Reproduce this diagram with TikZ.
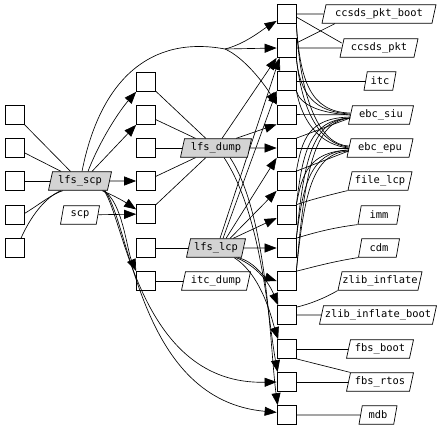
\documentclass[tikz,border=0pt]{standalone}
\usepackage{fontspec}
\newfontfamily\lblfont{DejaVu Sans Mono}
\usetikzlibrary{shapes.geometric,arrows.meta,backgrounds}
\definecolor{nodegray}{RGB}{211,211,211}
\begin{document}
\begin{tikzpicture}[x=1pt,y=-1pt,
  box/.style={draw, line width=0.7pt, minimum width=19pt, minimum height=19pt, inner sep=0pt},
  lbl/.style={draw, line width=0.7pt, trapezium, trapezium left angle=72, trapezium right angle=108,
    trapezium stretches body, minimum height=18.5pt, inner xsep=0pt, inner ysep=1pt,
    font=\lblfont\fontsize{10.4}{12}\selectfont},
  gr/.style={fill=nodegray},
  ln/.style={line width=0.65pt},
  arr/.style={ln, -{Triangle[length=12pt,width=9pt]}},
]
\useasboundingbox (0,0) rectangle (442,429);
% left boxes
\foreach \i/\y in {1/115,2/148,3/181,4/215,5/248} \node[box] (L\i) at (15,\y) {};
% middle boxes
\foreach \i/\y in {1/82,2/115,3/148,4/181,5/214,6/248,7/281} \node[box] (M\i) at (146,\y) {};
% right boxes
\foreach \i/\y in {1/14,2/48,3/81,4/114.5,5/148,6/181,7/214.5,8/248,9/281,10/315,11/349,12/382,13/415}
  \node[box] (R\i) at (286.5,\y) {};
% labels
\node[lbl,gr,minimum width=63pt] (lfs_scp) at (80,181) {lfs\_scp};
\node[lbl,minimum width=39pt] (scp) at (80,215) {scp};
\node[lbl,gr,minimum width=71pt] (lfs_dump) at (216,148) {lfs\_dump};
\node[lbl,gr,minimum width=59pt] (lfs_lcp) at (216,248) {lfs\_lcp};
\node[lbl,minimum width=69pt] (itc_dump) at (216,281) {itc\_dump};
\node[lbl,minimum width=114pt] (ccsds_pkt_boot) at (379,14) {ccsds\_pkt\_boot};
\node[lbl,minimum width=78pt] (ccsds_pkt) at (379,48) {ccsds\_pkt};
\node[lbl,minimum width=32pt] (itc) at (380,81) {itc};
\node[lbl,minimum width=65pt] (ebc_siu) at (381,115) {ebc\_siu};
\node[lbl,minimum width=66pt] (ebc_epu) at (380,148) {ebc\_epu};
\node[lbl,minimum width=64pt] (file_lcp) at (380,181) {file\_lcp};
\node[lbl,minimum width=42pt] (imm) at (379,215) {imm};
\node[lbl,minimum width=41pt] (cdm) at (379,248) {cdm};
\node[lbl,minimum width=84pt] (zlib_inflate) at (380,281) {zlib\_inflate};
\node[lbl,minimum width=117pt] (zlib_inflate_boot) at (378,315) {zlib\_inflate\_boot};
\node[lbl,minimum width=67pt] (fbs_boot) at (380,349) {fbs\_boot};
\node[lbl,minimum width=67pt] (fbs_rtos) at (380,382) {fbs\_rtos};
\node[lbl,minimum width=38pt] (mdb) at (378,415) {mdb};
\coordinate (sp) at (225,49);

\begin{scope}[on background layer]
% left box lines
\draw[ln] (L1) -- (lfs_scp);
\draw[ln] (L2) -- (lfs_scp);
\draw[ln] (L3) -- (lfs_scp);
\draw[ln] (L4.10) .. controls (40,204) and (52,194) .. ([xshift=-17pt]lfs_scp.south);
\draw[ln] ([xshift=6pt]L5.north) .. controls (30,218) and (44,198) .. ([xshift=-19pt]lfs_scp.south);
% lfs_scp arrows
\draw[arr] ([xshift=8pt]lfs_scp.north) .. controls (100,140) and (120,110) .. (M1.south west);
\draw[arr] ([xshift=12pt]lfs_scp.north) -- (M2.south west);
\draw[arr] (lfs_scp) -- (M4);
\draw[arr] ([xshift=22pt]lfs_scp.south) .. controls (115,196) and (125,202) .. (M5.155);
\draw[arr] (scp) -- (M5);
\draw[arr] ([xshift=23pt]lfs_scp.south) .. controls (122,200) and (127,250) .. (M7.north west);
\draw[arr] ([xshift=24pt]lfs_scp.south) .. controls (125,220) and (140,385) .. (R12.west);
\draw[arr] ([xshift=25pt]lfs_scp.south) .. controls (132,230) and (140,400) .. (R13.165);
% big arc
\draw[ln] ([xshift=2pt]lfs_scp.north) .. controls (100,80) and (150,35) .. (sp);
\draw[arr] (sp) .. controls (245,44) and (262,30) .. (R1.215);
\draw[arr] (sp) -- (R2.west);
\draw[arr] (sp) .. controls (245,58) and (265,85) .. (R4.north west);
% middle lines
\foreach \i in {1,...,5} \draw[ln] (M\i) -- (lfs_dump);
\draw[ln] (M6) -- (lfs_lcp);
\draw[ln] (M7) -- (itc_dump);
% lfs_dump arrows
\draw[arr] ([xshift=6pt]lfs_dump.north) -- (R2.south west);
\draw[arr] ([xshift=20pt]lfs_dump.north) -- (R4.south west);
\draw[arr] (lfs_dump) -- (R5);
\draw[arr] ([xshift=8pt]lfs_dump.south) .. controls (262,215) and (268,320) .. ([xshift=1pt]R12.north west);
\draw[arr] ([xshift=14pt]lfs_dump.south) .. controls (268,215) and (270,350) .. ([xshift=1pt]R13.north west);
% lfs_lcp arrows
\draw[arr] ([xshift=4pt]lfs_lcp.north) -- ([xshift=3pt]R2.south west);
\draw[arr] ([xshift=7pt]lfs_lcp.north) -- (R3.south west);
\draw[arr] ([xshift=10pt]lfs_lcp.north) -- (R5.south west);
\draw[arr] ([xshift=14pt]lfs_lcp.north) -- (R6.south west);
\draw[arr] ([xshift=17pt]lfs_lcp.north) -- (R7.200);
\draw[arr] (lfs_lcp) -- (R8);
\draw[arr] ([xshift=22pt]lfs_lcp.south) .. controls (255,262) and (262,276) .. (R9.west);
\draw[arr] ([xshift=20pt]lfs_lcp.south) .. controls (262,268) and (272,290) .. ([xshift=1.5pt]R10.north west);
\draw[arr] ([xshift=18pt]lfs_lcp.south) .. controls (262,275) and (272,320) .. ([xshift=1.5pt]R11.north west);
% right label lines
\draw[ln] (R1) -- (ccsds_pkt_boot);
\draw[ln] ([yshift=-3pt]R1.east) -- ([yshift=5pt]ccsds_pkt.left side);
\draw[ln] ([yshift=5pt]R2.east) -- ([xshift=-44pt]ccsds_pkt_boot.south);
\draw[ln] (R2) -- (ccsds_pkt);
\draw[ln] (R3) -- (itc);
\draw[ln] (R4) -- (ebc_siu);
\draw[ln] (R5) -- (ebc_epu);
\draw[ln] (R5.north east) -- ([yshift=-3pt]ebc_siu.left side);
\draw[ln] (R6.north east) -- ([yshift=-3pt]ebc_epu.left side);
\draw[ln] (file_lcp.bottom left corner) .. controls (325,196) and (310,200) .. (R7.north east);
\draw[ln] (imm.bottom left corner) .. controls (330,228) and (310,234) .. (R8.north east);
\draw[ln] (cdm.bottom left corner) .. controls (330,262) and (310,268) .. (R9.north east);
\draw[ln] (zlib_inflate.bottom left corner) .. controls (325,298) and (310,304) .. ([yshift=-2pt]R10.north east);
\draw[ln] (R10) -- (zlib_inflate_boot);
\draw[ln] (R11) -- (fbs_boot);
\draw[ln] (R11.south east) -- (fbs_rtos.top left corner);
\draw[ln] (R12) -- (fbs_rtos);
\draw[ln] (R13) -- (mdb);
% ebc curves from above
\draw[ln] (R1.south east) .. controls (300,80) and (310,112) .. ([yshift=2pt]ebc_siu.left side);
\draw[ln] (R1.south east) .. controls (300,100) and (320,145) .. ([yshift=2pt]ebc_epu.left side);
\draw[ln] (R2.south east) .. controls (300,95) and (315,112) .. ([yshift=1pt]ebc_siu.left side);
\draw[ln] (R2.south east) .. controls (302,112) and (320,144) .. ([yshift=1pt]ebc_epu.left side);
\draw[ln] (R3.south east) .. controls (300,105) and (320,113) .. (ebc_siu.left side);
\draw[ln] (R3.south east) .. controls (303,125) and (322,145) .. (ebc_epu.left side);
% ebc curves from below
\draw[ln] (R6.north east) .. controls (302,140) and (308,118) .. ([yshift=-2pt]ebc_siu.left side);
\draw[ln] (R7.north east) .. controls (303,150) and (310,120) .. ([yshift=-3pt]ebc_siu.left side);
\draw[ln] (R7.north east) .. controls (302,175) and (308,152) .. ([yshift=-2pt]ebc_epu.left side);
\draw[ln] (R8.north east) .. controls (304,160) and (312,120) .. ([yshift=-3pt]ebc_siu.left side);
\draw[ln] (R8.north east) .. controls (303,185) and (310,152) .. ([yshift=-2pt]ebc_epu.left side);
\draw[ln] (R9.north east) .. controls (305,170) and (314,121) .. ([yshift=-3pt]ebc_siu.left side);
\draw[ln] (R9.north east) .. controls (304,195) and (312,153) .. ([yshift=-3pt]ebc_epu.left side);
\end{scope}
\end{tikzpicture}
\end{document}
